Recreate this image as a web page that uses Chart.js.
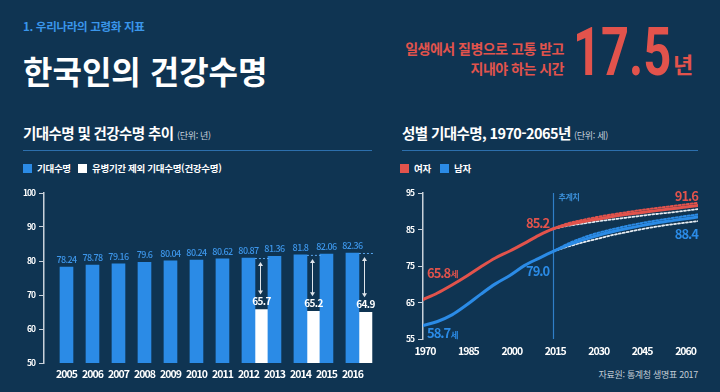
<!DOCTYPE html>
<html lang="ko">
<head>
<meta charset="utf-8">
<script src="https://cdn.jsdelivr.net/npm/chart.js@4.4.1/dist/chart.umd.min.js"></script>
<style>
  body { margin: 0; background: #0f3452; }
  #page { position: relative; width: 720px; height: 392px; overflow: hidden; background: #0f3452; color: #fff;
          font-family: "Noto Sans CJK KR", "Noto Sans", sans-serif; }
  .abs { position: absolute; white-space: nowrap; }
  .sec { font-size: 14.5px; font-weight: 700; line-height: 20px; letter-spacing: -0.6px; }
  .sec small { font-size: 9px; font-weight: 400; color: #c9d2dc; letter-spacing: -0.3px; }
  .rule { position: absolute; height: 1px; background: #2c6fad; }
  .key { position: absolute; width: 9px; height: 9px; }
  .keytxt { font-size: 9.5px; font-weight: 700; line-height: 14px; letter-spacing: -0.3px; }
  canvas { position: absolute; }
</style>
</head>
<body>
<div id="page">
  <div class="abs" style="left:23px;top:18px;font-size:11.5px;font-weight:700;color:#3a96ea;line-height:16px;letter-spacing:-0.3px">1. 우리나라의 고령화 지표</div>
  <div class="abs" style="left:23px;top:51px;font-size:32px;font-weight:700;line-height:38px">한국인의 건강수명</div>

  <div class="abs" style="right:156px;top:38px;font-size:14px;font-weight:700;color:#e2534c;line-height:20px;letter-spacing:-0.5px">일생에서 질병으로 고통 받고</div>
  <div class="abs" style="right:156px;top:58px;font-size:14px;font-weight:700;color:#e2534c;line-height:20px;letter-spacing:-0.5px">지내야 하는 시간</div>
  <div class="abs" style="left:573px;top:20px;font-family:Roboto,sans-serif;font-size:66px;font-weight:700;color:#e2534c;line-height:66px;transform:scaleX(0.74);transform-origin:left top">17.5</div>
  <div class="abs" style="left:673px;top:50px;font-size:22px;font-weight:700;color:#e2534c;line-height:26px">년</div>

  <div class="abs sec" style="left:23px;top:123px">기대수명 및 건강수명 추이 <small>(단위: 년)</small></div>
  <div class="rule" style="left:23px;top:150px;width:349px"></div>
  <div class="key" style="left:23px;top:164px;background:#2b8be6"></div>
  <div class="abs keytxt" style="left:37px;top:161px">기대수명</div>
  <div class="key" style="left:78px;top:164px;background:#ffffff"></div>
  <div class="abs keytxt" style="left:92px;top:161px">유병기간 제외 기대수명(건강수명)</div>

  <div class="abs sec" style="left:402px;top:123px">성별 기대수명, 1970-2065년 <small>(단위: 세)</small></div>
  <div class="rule" style="left:402px;top:150px;width:296px"></div>
  <div class="key" style="left:400px;top:164px;background:#e2534c"></div>
  <div class="abs keytxt" style="left:414px;top:161px">여자</div>
  <div class="key" style="left:440px;top:164px;background:#2b8be6"></div>
  <div class="abs keytxt" style="left:454px;top:161px">남자</div>

  <canvas id="lifeChart" width="385" height="206" style="left:0;top:178px"></canvas>
  <canvas id="sexChart" width="320" height="185" style="left:390px;top:178px"></canvas>

  <div class="abs" style="right:22px;top:367px;font-size:9px;color:#c2cbd5;line-height:16px;letter-spacing:-0.3px">자료원: 통계청 생명표 2017</div>
</div>

<script>
// 기대수명 및 건강수명 추이
const barYears = [2005, 2006, 2007, 2008, 2009, 2010, 2011, 2012, 2013, 2014, 2015, 2016];
const lifeExpectancy = [78.24, 78.78, 79.16, 79.6, 80.04, 80.24, 80.62, 80.87, 81.36, 81.8, 82.06, 82.36];
const healthYears = [2012, 2014, 2016];
const healthyLife = [65.7, 65.2, 64.9];
const barYTicks = [50, 60, 70, 80, 90, 100];

// 성별 기대수명 (1970-2015 실측, 2015-2065 추계)
const pastYears = [1970, 1975, 1980, 1985, 1990, 1995, 2000, 2005, 2010, 2015];
const femalePast = [65.8, 67.6, 69.8, 72.2, 74.8, 77.2, 79.1, 81.2, 83.4, 85.2];
const malePast = [58.7, 59.8, 61.6, 64.3, 67.3, 70.1, 72.4, 75.1, 77.1, 79.0];
const projYears = [2015, 2020, 2025, 2030, 2035, 2040, 2045, 2050, 2055, 2060, 2065];
const femaleProj = [85.2, 86.3, 87.1, 87.8, 88.5, 89.1, 89.6, 90.1, 90.6, 91.1, 91.6];
const femaleHigh = [85.2, 86.7, 87.6, 88.4, 89.1, 89.7, 90.3, 90.8, 91.3, 91.8, 92.3];
const femaleLow = [85.2, 86.0, 86.6, 87.2, 87.7, 88.2, 88.7, 89.2, 89.6, 90.1, 90.6];
const maleProj = [79.0, 80.7, 82.1, 83.3, 84.3, 85.2, 86.0, 86.7, 87.3, 87.9, 88.4];
const maleHigh = [79.0, 81.1, 82.7, 84.0, 85.0, 85.9, 86.7, 87.4, 88.0, 88.6, 89.1];
const maleLow = [79.0, 80.3, 81.4, 82.4, 83.4, 84.2, 85.0, 85.7, 86.3, 86.8, 87.3];
const lineXTicks = [1970, 1985, 2000, 2015, 2030, 2045, 2060];
const lineYTicks = [55, 65, 75, 85, 95];

const RED = '#e2534c';
const BLUE = '#2b8be6';
const AXIS = '#c9d1da';
const FONT = '"Noto Sans CJK KR", "Noto Sans", sans-serif';

Chart.defaults.font.family = FONT;
Chart.defaults.color = '#ffffff';

const pts = (xs, ys) => xs.map((x, i) => ({ x: x, y: ys[i] }));

// numbers in the original are set tight; no narrow font here, so squeeze the spacing
const tightText = {
  id: 'tightText',
  beforeDraw(chart, args, opts) { chart.ctx.letterSpacing = opts.spacing || '0px'; },
  afterDraw(chart) { chart.ctx.letterSpacing = '0px'; }
};

// year axis for the bars; the white bars sit on a copy shifted half a year
const BAR_MIN = 2004.135, BAR_MAX = 2017.06;

// value labels, arrows between the two bars
const barNotes = {
  id: 'barNotes',
  afterDatasetsDraw(chart) {
    const ctx = chart.ctx;
    const blue = chart.getDatasetMeta(0).data;
    const white = chart.getDatasetMeta(1).data;
    ctx.save();
    ctx.letterSpacing = '-0.6px';
    ctx.textAlign = 'center';
    ctx.textBaseline = 'bottom';
    ctx.font = '500 9px ' + FONT;
    ctx.fillStyle = '#3d96ea';
    blue.forEach((bar, i) => ctx.fillText(String(lifeExpectancy[i]), bar.x, bar.y - 3));

    white.forEach((bar, i) => {
      const top = blue[barYears.indexOf(healthYears[i])];
      // dashed level line
      ctx.strokeStyle = '#5aa6ee';
      ctx.lineWidth = 1;
      ctx.setLineDash([2, 2]);
      ctx.beginPath();
      ctx.moveTo(top.x + top.width / 2, top.y + 0.5);
      ctx.lineTo(bar.x + bar.width / 2 + 1, top.y + 0.5);
      ctx.stroke();
      ctx.setLineDash([]);
      // double arrow
      const y1 = top.y + 4, y2 = bar.y - 15, ax = Math.round(bar.x - 1) + 0.5;
      ctx.strokeStyle = '#dfe4ea';
      ctx.fillStyle = '#dfe4ea';
      ctx.beginPath();
      ctx.moveTo(ax, y1 + 2);
      ctx.lineTo(ax, y2 - 2);
      ctx.stroke();
      ctx.beginPath();
      ctx.moveTo(ax, y1); ctx.lineTo(ax - 2.5, y1 + 4); ctx.lineTo(ax + 2.5, y1 + 4); ctx.closePath();
      ctx.moveTo(ax, y2); ctx.lineTo(ax - 2.5, y2 - 4); ctx.lineTo(ax + 2.5, y2 - 4); ctx.closePath();
      ctx.fill();
      // value
      ctx.fillStyle = '#ffffff';
      ctx.font = '700 10px ' + FONT;
      ctx.fillText(String(healthyLife[i]), bar.x, bar.y - 3);
      ctx.font = '500 9px ' + FONT;
    });
    ctx.restore();
  }
};

new Chart(document.getElementById('lifeChart'), {
  type: 'bar',
  data: {
    datasets: [{
      label: '기대수명',
      data: pts(barYears, lifeExpectancy),
      backgroundColor: BLUE,
      grouped: false,
      barThickness: 13,
      xAxisID: 'x'
    }, {
      label: '유병기간 제외 기대수명(건강수명)',
      data: pts(healthYears, healthyLife),
      backgroundColor: '#ffffff',
      grouped: false,
      barThickness: 13,
      xAxisID: 'x2'
    }]
  },
  options: {
    responsive: false,
    animation: false,
    layout: { padding: { top: 15, right: 5, left: 0, bottom: 0 } },
    plugins: { legend: { display: false }, tooltip: { enabled: false }, tightText: { spacing: '-1px' } },
    scales: {
      x: {
        type: 'linear',
        offset: false,
        min: BAR_MIN,
        max: BAR_MAX,
        afterBuildTicks: s => { s.ticks = barYears.map(v => ({ value: v })); },
        afterFit: s => { s.height = 21; },
        grid: { display: false, drawTicks: false, offset: false },
        border: { display: false },
        ticks: {
          autoSkip: false,
          maxRotation: 0,
          padding: 5,
          color: '#ffffff',
          font: { size: 10.5, weight: '700' },
          callback: v => String(v)
        }
      },
      x2: {
        type: 'linear',
        display: false,
        offset: false,
        grid: { offset: false },
        min: BAR_MIN - 0.5,
        max: BAR_MAX - 0.5
      },
      y: {
        min: 50,
        max: 100,
        afterBuildTicks: s => { s.ticks = barYTicks.map(v => ({ value: v })); },
        afterFit: s => { s.width = 44; },
        grid: { drawOnChartArea: false, tickLength: 5, color: AXIS },
        border: { color: AXIS, width: 1.5 },
        ticks: { padding: 4, color: '#ffffff', font: { size: 8.5, weight: '700' } }
      }
    }
  },
  plugins: [tightText, barNotes]
});

// projection marker and end labels
const lineNotes = {
  id: 'lineNotes',
  beforeDatasetsDraw(chart) {
    const ctx = chart.ctx, x = chart.scales.x, y = chart.scales.y;
    const px = Math.round(x.getPixelForValue(projYears[0])) + 0.5;
    ctx.save();
    ctx.strokeStyle = '#2f7fc8';
    ctx.lineWidth = 1.2;
    ctx.beginPath();
    ctx.moveTo(px, y.getPixelForValue(95));
    ctx.lineTo(px, y.getPixelForValue(55));
    ctx.stroke();
    ctx.fillStyle = '#3b8fd8';
    ctx.letterSpacing = '-0.3px';
    ctx.font = '600 8px ' + FONT;
    ctx.textAlign = 'left';
    ctx.textBaseline = 'middle';
    ctx.fillText('추계치', px + 5, y.getPixelForValue(95) + 4);
    ctx.restore();
  },
  afterDatasetsDraw(chart) {
    const ctx = chart.ctx, x = chart.scales.x, y = chart.scales.y;
    const put = (val, unit, xv, yv, dx, dy, align, color) => {
      const px = x.getPixelForValue(xv) + dx, py = y.getPixelForValue(yv) + dy;
      ctx.fillStyle = color;
      ctx.textBaseline = 'middle';
      ctx.letterSpacing = '-1px';
      ctx.font = '700 13px ' + FONT;
      const txt = val.toFixed(1);
      const w = ctx.measureText(txt).width;
      ctx.letterSpacing = '0px';
      ctx.font = '700 8.5px ' + FONT;
      const uw = unit ? ctx.measureText(unit).width : 0;
      const left = align === 'right' ? px - w - uw : px;
      ctx.textAlign = 'left';
      ctx.letterSpacing = '-1px';
      ctx.font = '700 13px ' + FONT;
      ctx.fillText(txt, left, py);
      if (unit) {
        ctx.letterSpacing = '0px';
        ctx.font = '700 8.5px ' + FONT;
        ctx.fillText(unit, left + w + 0.5, py + 1);
      }
    };
    ctx.save();
    const last = projYears.length - 1;
    put(femalePast[0], '세', pastYears[0], femalePast[0], 4, -27, 'left', RED);
    put(malePast[0], '세', pastYears[0], malePast[0], 4, 8, 'left', BLUE);
    put(femaleProj[0], '', projYears[0], femaleProj[0], -4, -6, 'right', RED);
    put(maleProj[0], '', projYears[0], maleProj[0], -4, 20, 'right', BLUE);
    put(femaleProj[last], '', projYears[last], femaleProj[last], 0, -9, 'right', RED);
    put(maleProj[last], '', projYears[last], maleProj[last], 0, 17, 'right', BLUE);
    ctx.restore();
  }
};

new Chart(document.getElementById('sexChart'), {
  type: 'line',
  data: {
    datasets: [
      { label: '여자', data: pts(pastYears.concat(projYears.slice(1)), femalePast.concat(femaleProj.slice(1))), borderColor: RED, borderWidth: 3 },
      { label: '남자', data: pts(pastYears.concat(projYears.slice(1)), malePast.concat(maleProj.slice(1))), borderColor: BLUE, borderWidth: 3 },
      { label: '여자 고위', data: pts(projYears, femaleHigh), borderColor: RED, borderWidth: 2, borderDash: [2, 2] },
      { label: '여자 저위', data: pts(projYears, femaleLow), borderColor: '#e6ecf2', borderWidth: 1.8, borderDash: [2, 2] },
      { label: '남자 고위', data: pts(projYears, maleHigh), borderColor: BLUE, borderWidth: 2, borderDash: [2, 2] },
      { label: '남자 저위', data: pts(projYears, maleLow), borderColor: '#e6ecf2', borderWidth: 1.8, borderDash: [2, 2] }
    ]
  },
  options: {
    responsive: false,
    animation: false,
    layout: { padding: { top: 15, right: 12, left: 0, bottom: 0 } },
    elements: { point: { radius: 0 }, line: { cubicInterpolationMode: 'monotone', borderCapStyle: 'round' } },
    plugins: { legend: { display: false }, tooltip: { enabled: false }, tightText: { spacing: '-1px' } },
    scales: {
      x: {
        type: 'linear',
        min: 1970,
        max: 2065,
        afterBuildTicks: s => { s.ticks = lineXTicks.map(v => ({ value: v })); },
        afterFit: s => { s.height = 24; },
        grid: { display: false, drawTicks: false },
        border: { display: false },
        ticks: {
          autoSkip: false,
          maxRotation: 0,
          padding: 6,
          labelOffset: 2,
          color: '#ffffff',
          font: { size: 10.5, weight: '700' },
          callback: v => String(v)
        }
      },
      y: {
        min: 55,
        max: 95,
        afterBuildTicks: s => { s.ticks = lineYTicks.map(v => ({ value: v })); },
        afterFit: s => { s.width = 33; },
        grid: { drawOnChartArea: false, tickLength: 5, color: AXIS },
        border: { color: AXIS, width: 1.5 },
        ticks: { padding: 4, color: '#ffffff', font: { size: 8.5, weight: '700' } }
      }
    }
  },
  plugins: [tightText, lineNotes]
});
</script>
</body>
</html>
